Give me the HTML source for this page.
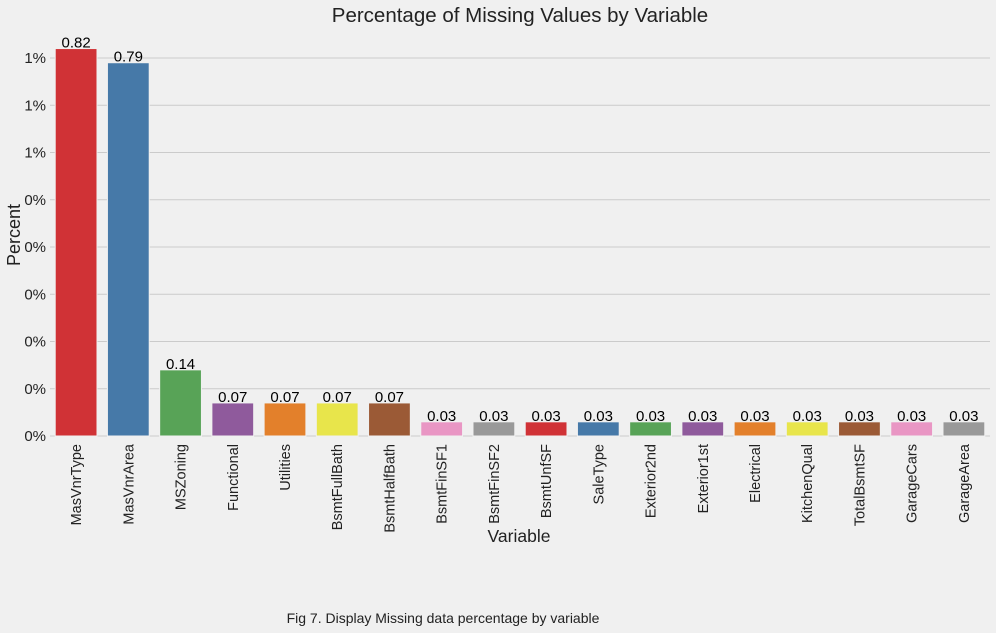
<!DOCTYPE html>
<html><head><meta charset="utf-8"><style>
html,body{margin:0;padding:0;background:#f0f0f0;}
svg{display:block;font-family:"Liberation Sans",sans-serif;}
</style></head><body>
<svg id="chart" width="996" height="633" viewBox="0 0 996 633">
<rect width="996" height="633" fill="#f0f0f0"/>
<text x="520" y="22" text-anchor="middle" font-size="20.5" fill="#222">Percentage of Missing Values by Variable</text>
<g id="grid"></g>
<g id="yticks"></g>
<g id="bars"></g>
<g id="xticks"></g>
<text transform="translate(20,235) rotate(-90)" text-anchor="middle" font-size="18" fill="#222">Percent</text>
<text x="519" y="542" text-anchor="middle" font-size="17.5" fill="#222">Variable</text>
<text x="443" y="623" text-anchor="middle" font-size="14" fill="#222">Fig 7. Display Missing data percentage by variable</text>
</svg>
<script>
const categories=["MasVnrType","MasVnrArea","MSZoning","Functional","Utilities","BsmtFullBath","BsmtHalfBath","BsmtFinSF1","BsmtFinSF2","BsmtUnfSF","SaleType","Exterior2nd","Exterior1st","Electrical","KitchenQual","TotalBsmtSF","GarageCars","GarageArea"];
const values=[0.82,0.79,0.14,0.07,0.07,0.07,0.07,0.03,0.03,0.03,0.03,0.03,0.03,0.03,0.03,0.03,0.03,0.03];
const yTicks=[0,0.1,0.2,0.3,0.4,0.5,0.6,0.7,0.8];
const yTickLabels=["0%","0%","0%","0%","0%","0%","1%","1%","1%"];
const colors=["#d03236","#4679a8","#58a357","#8f5a9c","#e3802b","#e8e54b","#9b5a36","#e996c4","#999999"];
const NS="http://www.w3.org/2000/svg";
const x0=50,x1=990,y0=436,yTop=58;
const step=(x1-x0)/categories.length;
const y=v=>y0-(v/0.8)*(y0-yTop);
const xc=i=>x0+step*(i+0.5);
function mk(t,a,p){const e=document.createElementNS(NS,t);for(const k in a)e.setAttribute(k,a[k]);p.appendChild(e);return e;}
const grid=document.getElementById('grid'),yt=document.getElementById('yticks'),bars=document.getElementById('bars'),xt=document.getElementById('xticks');
yTicks.forEach((v,i)=>{
 const l=mk('line',{x1:x0,x2:x1,y1:y(v),y2:y(v),stroke:'#cbcbcb','stroke-width':1},grid);
 
 
 const t=mk('text',{x:46,y:y(v)+5,'text-anchor':'end','font-size':15,fill:'#222'},yt);
 t.textContent=yTickLabels[i];
 
 
});
const bw=step*0.8;
values.forEach((v,i)=>{
 const r=mk('rect',{x:xc(i)-bw/2,y:y(v),width:bw,height:y0-y(v),fill:colors[i%colors.length],stroke:'#f0f0f0','stroke-width':1},bars);
 
 
 const t=mk('text',{x:xc(i),y:y(v)-1,'text-anchor':'middle','font-size':15,fill:'#000'},bars);
 t.textContent=v.toFixed(2);
 
 
 const c=mk('text',{transform:`translate(${xc(i)+5},444) rotate(-90)`,'text-anchor':'end','font-size':14.5,fill:'#222'},xt);
 c.textContent=categories[i];
 
 
});
</script>
</body></html>
